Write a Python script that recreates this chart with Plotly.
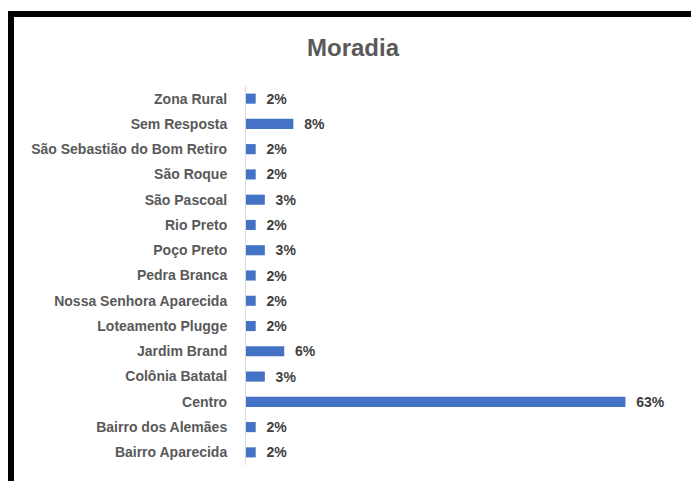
import plotly.graph_objects as go

categories = [
    "Zona Rural", "Sem Resposta", "São Sebastião do Bom Retiro", "São Roque",
    "São Pascoal", "Rio Preto", "Poço Preto", "Pedra Branca",
    "Nossa Senhora Aparecida", "Loteamento Plugge", "Jardim Brand",
    "Colônia Batatal", "Centro", "Bairro dos Alemães", "Bairro Aparecida",
]
values = [1.6, 7.8, 1.6, 1.6, 3.1, 1.6, 3.1, 1.6, 1.6, 1.6, 6.3, 3.1, 62.5, 1.6, 1.6]
labels = ["2%", "8%", "2%", "2%", "3%", "2%", "3%", "2%", "2%", "2%", "6%", "3%", "63%", "2%", "2%"]

W, H = 691, 481
L, R, T, B = 246, 20, 86, 16
pw, ph = W - L - R, H - T - B

def px(x):
    return (x - L) / pw

def py(y):
    return (H - B - y) / ph

fig = go.Figure(go.Bar(
    x=values, y=categories, orientation="h",
    marker=dict(color="#4472C4", line=dict(width=0)),
    width=0.4,
    text=["\u00a0\u00a0<b>" + s + "</b>" for s in labels],
    textposition="outside",
    constraintext="none",
    textfont=dict(family="Liberation Sans", size=14, color="#404040"),
    cliponaxis=False,
    hoverinfo="skip",
))

fig.update_layout(
    width=W, height=H,
    margin=dict(l=L, r=R, t=T, b=B),
    paper_bgcolor="white", plot_bgcolor="white",
    showlegend=False,
    title=dict(text="<b>Moradia</b>", x=353 / W, xanchor="center", xref="container",
               y=1 - 48 / H, yanchor="middle", yref="container",
               font=dict(family="Liberation Sans", size=24, color="#595959")),
    xaxis=dict(range=[0, 70], visible=False, fixedrange=True),
    yaxis=dict(autorange="reversed", showline=True, linecolor="#D9D9D9", linewidth=1,
               ticks="", ticklabelstandoff=15, showgrid=False, zeroline=False,
               tickfont=dict(family="Liberation Sans", size=14, color="#595959"),
               fixedrange=True),
    font=dict(family="Liberation Sans"),
    shapes=[
        dict(type="rect", xref="paper", yref="paper",
             x0=px(8), x1=px(W + 5), y0=py(17), y1=py(11),
             fillcolor="black", line=dict(width=0), layer="above"),
        dict(type="rect", xref="paper", yref="paper",
             x0=px(8), x1=px(14), y0=py(H + 5), y1=py(11),
             fillcolor="black", line=dict(width=0), layer="above"),
    ],
)
fig.update_yaxes(tickprefix="<b>", ticksuffix="</b>")

fig.write_html("out.html", config={"displayModeBar": False},
               post_script="document.body.style.margin='0';document.body.style.overflow='hidden';")
